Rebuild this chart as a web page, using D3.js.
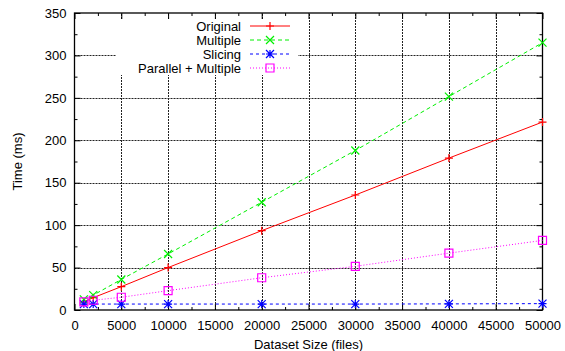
<!DOCTYPE html>
<html>
<head>
<meta charset="utf-8">
<script src="https://cdn.jsdelivr.net/npm/d3@7"></script>
<style>
  body { margin: 0; background: #fff; }
  svg { font-family: "Liberation Sans", Arial, Helvetica, sans-serif; }
  .tick text { font-size: 13px; fill: #000; }
</style>
</head>
<body>
<div id="chart"></div>
<script>
// Data
const sizes = [1000, 2000, 5000, 10000, 20000, 30000, 40000, 50000];
const original = [9.5, 14.5, 27.5, 50, 93.5, 135.5, 179, 221.5];
const multiple = [12.5, 17.5, 36, 66, 127, 188, 251.5, 315];
const slicing = [7, 7, 7, 7, 7, 7, 7.2, 7.5];
const parallelMultiple = [9.5, 11.5, 15, 22.8, 38, 51.5, 67, 82];
const xTicks = d3.range(0, 50001, 5000);
const yTicks = d3.range(0, 351, 50);

const series = [
  {name: 'Original', values: original, color: '#ff0000', dash: null, marker: 'plus'},
  {name: 'Multiple', values: multiple, color: '#00f000', dash: '4,3', marker: 'cross'},
  {name: 'Slicing', values: slicing, color: '#0000ff', dash: '3,3', marker: 'star'},
  {name: 'Parallel + Multiple', values: parallelMultiple, color: '#ff00ff', dash: '1,2', marker: 'square'}
];

const W = 565, H = 351;
const margin = {top: 13, right: 22.5, bottom: 41, left: 74.5};

const svg = d3.select('#chart').append('svg')
    .attr('width', W)
    .attr('height', H);

// Scales
const x = d3.scaleLinear().domain([0, 50000]).range([margin.left, W - margin.right]);
const y = d3.scaleLinear().domain([0, 350]).range([H - margin.bottom, margin.top]);

// Grid (dotted)
const grid = svg.append('g').attr('id', 'grid')
    .attr('stroke', '#222')
    .attr('stroke-width', 1)
    .attr('stroke-dasharray', '2,1');
grid.selectAll('.gx')
  .data(xTicks.slice(1, -1))
  .join('line')
    .attr('x1', d => Math.round(x(d)) + 0.5)
    .attr('x2', d => Math.round(x(d)) + 0.5)
    .attr('y1', y(0))
    .attr('y2', y(350));
grid.selectAll('.gy')
  .data(yTicks.slice(1, -1))
  .join('line')
    .attr('x1', x(0))
    .attr('x2', x(50000))
    .attr('y1', d => Math.round(y(d)) + 0.5)
    .attr('y2', d => Math.round(y(d)) + 0.5);

// Axes, ticks pointing inward, mirrored on top/right
svg.append('g')
    .attr('transform', `translate(0, ${y(0)})`)
    .call(d3.axisBottom(x).tickValues(xTicks).tickSizeInner(-6).tickSizeOuter(0).tickPadding(11).tickFormat(d3.format('d')));
svg.append('g')
    .attr('transform', `translate(${x(0)}, 0)`)
    .call(d3.axisLeft(y).tickValues(yTicks).tickSizeInner(-6).tickSizeOuter(0).tickPadding(8).tickFormat(d3.format('d')));
svg.append('g')
    .attr('transform', `translate(0, ${y(350)})`)
    .call(d3.axisTop(x).tickValues(xTicks).tickSizeInner(-6).tickSizeOuter(0).tickFormat(''));
svg.append('g')
    .attr('transform', `translate(${x(50000)}, 0)`)
    .call(d3.axisRight(y).tickValues(yTicks).tickSizeInner(-6).tickSizeOuter(0).tickFormat(''));

// minor ticks
const xMinor = d3.range(2500, 50000, 5000);
const yMinor = d3.range(25, 350, 50);
svg.append('g').attr('transform', `translate(0, ${y(0)})`)
    .call(d3.axisBottom(x).tickValues(xMinor).tickSizeInner(-3).tickSizeOuter(0).tickFormat(''));
svg.append('g').attr('transform', `translate(0, ${y(350)})`)
    .call(d3.axisTop(x).tickValues(xMinor).tickSizeInner(-3).tickSizeOuter(0).tickFormat(''));
svg.append('g').attr('transform', `translate(${x(0)}, 0)`)
    .call(d3.axisLeft(y).tickValues(yMinor).tickSizeInner(-3).tickSizeOuter(0).tickFormat(''));
svg.append('g').attr('transform', `translate(${x(50000)}, 0)`)
    .call(d3.axisRight(y).tickValues(yMinor).tickSizeInner(-3).tickSizeOuter(0).tickFormat(''));

svg.selectAll('.domain').remove();
svg.selectAll('.tick line').attr('stroke', '#000');

// Key box: opaque, hides grid behind it
const key = svg.append('g').attr('id', 'key');
key.append('rect')
    .attr('x', 116).attr('y', 19)
    .attr('width', 182).attr('height', 56)
    .attr('fill', '#fff');

// Border
svg.append('rect')
    .attr('x', x(0)).attr('y', y(350))
    .attr('width', x(50000) - x(0))
    .attr('height', y(0) - y(350))
    .attr('fill', 'none')
    .attr('stroke', '#000')
    .attr('stroke-width', 1.3);

// Marker drawing
const drawMarker = (g, type, color) => {
  const s = 4;
  const p = g.append('path')
      .attr('fill', 'none')
      .attr('stroke', color)
      .attr('stroke-width', 1.2);
  if (type === 'plus') p.attr('d', `M${-s},0H${s}M0,${-s}V${s}`);
  else if (type === 'cross') p.attr('d', `M${-s},${-s}L${s},${s}M${-s},${s}L${s},${-s}`);
  else if (type === 'star') p.attr('d', `M${-s},0H${s}M0,${-s}V${s}M${-s},${-s}L${s},${s}M${-s},${s}L${s},${-s}`);
  else p.attr('d', `M${-s},${-s}H${s}V${s}H${-s}Z`);
};

// Lines and points
const line = d3.line().x(d => x(d[0])).y(d => y(d[1]));
const plot = svg.append('g').attr('id', 'series');
series.forEach(s => {
  const pts = sizes.map((v, i) => [v, s.values[i]]);
  plot.append('path')
      .datum(pts)
      .attr('d', line)
      .attr('fill', 'none')
      .attr('stroke', s.color)
      .attr('stroke-width', 1)
      .attr('stroke-dasharray', s.dash);
  pts.forEach(p => {
    const g = plot.append('g').attr('transform', `translate(${x(p[0])}, ${y(p[1])})`);
    drawMarker(g, s.marker, s.color);
  });
});

// Key entries
series.forEach((s, i) => {
  const yy = 26 + i * 14;
  key.append('text')
      .attr('x', 241).attr('y', yy)
      .attr('dy', '0.35em')
      .attr('text-anchor', 'end')
      .attr('font-size', 13)
      .text(s.name);
  key.append('line')
      .attr('x1', 250).attr('x2', 290)
      .attr('y1', yy).attr('y2', yy)
      .attr('stroke', s.color)
      .attr('stroke-width', 1)
      .attr('stroke-dasharray', s.dash);
  drawMarker(key.append('g').attr('transform', `translate(270, ${yy})`), s.marker, s.color);
});

// Axis titles
svg.append('text')
    .attr('x', (x(0) + x(50000)) / 2)
    .attr('y', 349)
    .attr('text-anchor', 'middle')
    .attr('font-size', 13)
    .text('Dataset Size (files)');
svg.append('text')
    .attr('transform', `translate(22, ${(y(0) + y(350)) / 2}) rotate(-90)`)
    .attr('text-anchor', 'middle')
    .attr('font-size', 13)
    .text('Time (ms)');
</script>
</body>
</html>
